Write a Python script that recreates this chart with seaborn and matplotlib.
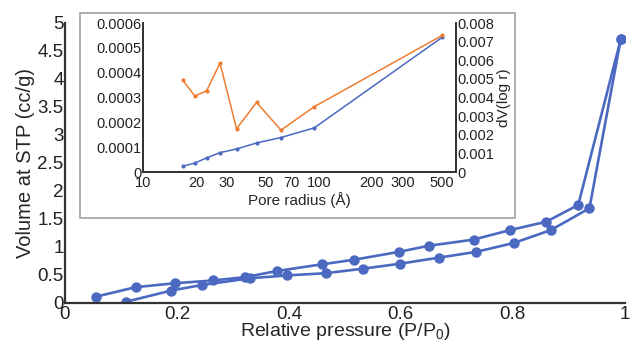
import numpy as np
import matplotlib
matplotlib.use('Agg')
import matplotlib.pyplot as plt
from matplotlib.patches import Rectangle
from matplotlib.ticker import FuncFormatter, NullFormatter
import seaborn as sns

# isotherm (main plot)
ads_p = [0.109, 0.19, 0.245, 0.331, 0.397, 0.466, 0.532, 0.599, 0.669, 0.734, 0.802, 0.868, 0.937, 0.993]
ads_v = [0.02, 0.22, 0.32, 0.44, 0.49, 0.53, 0.61, 0.70, 0.81, 0.91, 1.07, 1.30, 1.69, 4.71]
des_p = [0.993, 0.917, 0.860, 0.795, 0.730, 0.65, 0.596, 0.516, 0.460, 0.379, 0.322, 0.264, 0.196, 0.126, 0.055]
des_v = [4.71, 1.75, 1.45, 1.30, 1.13, 1.02, 0.91, 0.77, 0.69, 0.57, 0.46, 0.40, 0.35, 0.28, 0.11]

# pore size distribution (inset)
pore_r = [16.8, 19.7, 23.0, 27.4, 34.0, 44.2, 60.8, 94.0, 501]
cum_vol = [0.000023, 0.000036, 0.000057, 0.000078, 0.000093, 0.000117, 0.000139, 0.000178, 0.000543]
dv_logr = [0.00495, 0.00408, 0.00437, 0.00585, 0.00232, 0.00374, 0.00225, 0.00351, 0.00734]
x_ticks = [10, 20, 30, 50, 70, 100, 200, 300, 500]

sns.set_style('white')
plt.rcParams['font.family'] = ['Liberation Sans', 'DejaVu Sans']
plt.rcParams['mathtext.default'] = 'regular'

blue = '#4b69c1'
orange = '#ee7d31'
axcol = '#333333'

fig = plt.figure(figsize=(6.31, 3.43), dpi=100)
ax = fig.add_axes([0.103, 0.117, 0.887, 0.816])

sns.lineplot(x=ads_p, y=ads_v, sort=False, ax=ax, color=blue, lw=1.9,
             marker='o', markersize=7.5, markeredgewidth=0, estimator=None)
sns.lineplot(x=des_p, y=des_v, sort=False, ax=ax, color=blue, lw=1.9,
             marker='o', markersize=7.5, markeredgewidth=0, estimator=None)
ax.set_xlim(0, 1)
ax.set_ylim(0, 5)
ax.set_xticks([0, 0.2, 0.4, 0.6, 0.8, 1])
ax.set_yticks(np.arange(0, 5.01, 0.5))
fmt = FuncFormatter(lambda v, p: '{:g}'.format(round(v, 4)))
ax.xaxis.set_major_formatter(fmt)
ax.yaxis.set_major_formatter(fmt)
ax.tick_params(length=0, labelsize=13.5, colors='#222222')
ax.tick_params(axis='x', pad=2)
ax.tick_params(axis='y', pad=1)
ax.set_xlabel('Relative pressure (P/P$_0$)', fontsize=14, labelpad=-1)
ax.set_ylabel('Volume at STP (cc/g)', fontsize=14.5, labelpad=2)
for s in ['top', 'right']:
    ax.spines[s].set_visible(False)
for s in ['left', 'bottom']:
    ax.spines[s].set_color(axcol)
    ax.spines[s].set_linewidth(1.6)

# inset frame
fig.patches.append(Rectangle((80 / 631, 1 - 218 / 343), 435 / 631, 205 / 343,
                             transform=fig.transFigure, facecolor='white',
                             edgecolor='#a8a8a8', lw=1.3, zorder=3))

ins = fig.add_axes([0.2266, 0.4985, 0.496, 0.434], zorder=4)
ins2 = ins.twinx()
sns.lineplot(x=pore_r, y=cum_vol, sort=False, ax=ins, color=blue, lw=1.1,
             marker='o', markersize=3, markeredgewidth=0, estimator=None)
sns.lineplot(x=pore_r, y=dv_logr, sort=False, ax=ins2, color=orange, lw=1.1,
             marker='o', markersize=3, markeredgewidth=0, estimator=None)
ins.set_xscale('log')
ins.set_xlim(10, 600)
ins.set_ylim(0, 0.0006)
ins2.set_ylim(0, 0.008)
ins.set_yticks(np.arange(0, 0.00061, 0.0001))
ins2.set_yticks(np.arange(0, 0.0081, 0.001))
ins.yaxis.set_major_formatter(fmt)
ins2.yaxis.set_major_formatter(FuncFormatter(lambda v, p: '{:g}'.format(round(v, 5))))
ins.set_xticks(x_ticks)
ins.set_xticklabels([str(t) for t in x_ticks])
ins.set_xticks([40, 60, 80, 90, 400], minor=True)
ins.xaxis.set_minor_formatter(NullFormatter())
ins.tick_params(axis='x', which='both', direction='in', length=3, width=1,
                colors=axcol, labelsize=10.5, labelcolor='#222222', pad=3)
ins.tick_params(axis='y', length=0, labelsize=10.5, labelcolor='#222222', pad=1)
ins2.tick_params(axis='y', length=0, labelsize=10.5, labelcolor='#222222', pad=1)
ins.set_xlabel('Pore radius (Å)', fontsize=11, labelpad=1)
ins.set_ylabel('')
ins2.set_ylabel('dV(log r)', fontsize=11, labelpad=2)
for a in [ins, ins2]:
    a.spines['top'].set_visible(False)
    for s in ['left', 'right', 'bottom']:
        a.spines[s].set_color(axcol)
        a.spines[s].set_linewidth(1.3)
ins.patch.set_alpha(0)

fig.savefig('out.png', dpi=100)
